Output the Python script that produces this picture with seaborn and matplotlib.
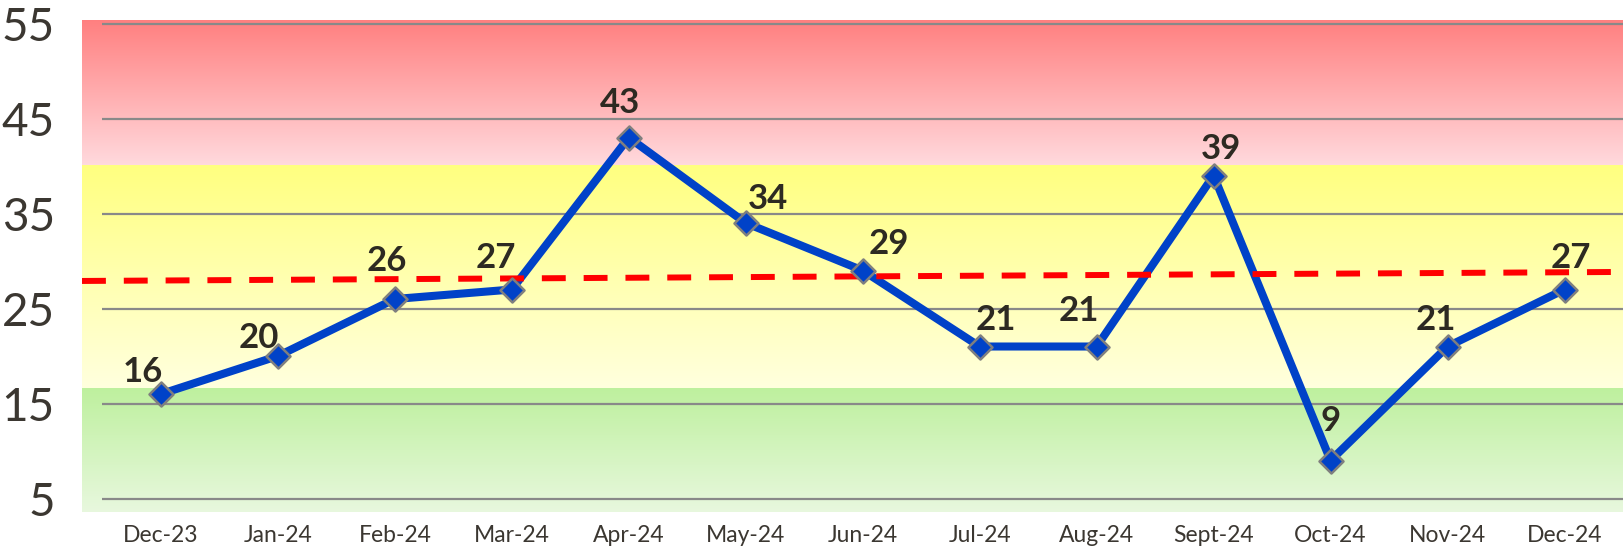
import numpy as np
import pandas as pd
import matplotlib
matplotlib.use("Agg")
import matplotlib.pyplot as plt
import seaborn as sns

# ---- data ----
months = ["Dec-23", "Jan-24", "Feb-24", "Mar-24", "Apr-24", "May-24", "Jun-24",
          "Jul-24", "Aug-24", "Sept-24", "Oct-24", "Nov-24", "Dec-24"]
values = [16, 20, 26, 27, 43, 34, 29, 21, 21, 39, 9, 21, 27]

# dashed reference line (value at left edge, value at right edge)
ref_start = 27.9
ref_end = 28.85

# colour bands
red_from = 40
green_to = 16.6
y_ticks = [5, 15, 25, 35, 45, 55]

# label nudges in pixels (dx, dy up to baseline)
label_dx = [-18, -19, -8, -16, -9, 22, 26, 16, -18, 7, 0, -12, 6]
label_dy = [12, 8, 28, 22, 25, 14, 17, 17, 26, 17, 30, 17, 22]

sns.set_theme(style="white")
plt.rcParams["font.family"] = ["Lato", "DejaVu Sans"]

df = pd.DataFrame({"pos": np.arange(len(months)), "value": values})

fig = plt.figure(figsize=(16.23, 5.47), dpi=100)
ax = fig.add_axes([82 / 1623, 35 / 547, 1 - 82 / 1623, 492 / 547])

x_lo, x_hi = -0.675, 12.5
y_lo, y_hi = 3.58, 55.37
ax.set_xlim(x_lo, x_hi)
ax.set_ylim(y_lo, y_hi)


def band(c_top, c_bot, y0, y1):
    # vertical gradient from c_top to c_bot
    t = np.linspace(0, 1, 256)[:, None]
    top = np.array(c_top) / 255.0
    bot = np.array(c_bot) / 255.0
    rgb = ((1 - t) * top + t * bot)[:, None, :]
    ax.imshow(rgb, extent=[x_lo, x_hi, y0, y1], aspect="auto",
              origin="upper", zorder=0, interpolation="bilinear")


band((255, 127, 127), (255, 218, 222), red_from, y_hi)
band((255, 255, 128), (255, 255, 222), green_to, red_from)
band((190, 240, 158), (232, 248, 222), y_lo, green_to)

# gridlines
ax.hlines(y_ticks, -0.5, x_hi, colors="#898989", linewidth=1.6, zorder=1)

# main series
sns.lineplot(data=df, x="pos", y="value", color="#0042C8", linewidth=5.8,
             ax=ax, zorder=3, sort=False)
ax.plot([x_lo, x_hi], [ref_start, ref_end], color="#FF0000", linewidth=4.3,
        dashes=(4, 3), zorder=4)
sns.scatterplot(data=df, x="pos", y="value", marker="D", s=150,
                color="#0042C8", edgecolor="#7F7F7F", linewidth=1.8,
                ax=ax, zorder=5)

for i, v in enumerate(values):
    ax.annotate(str(v), (i, v), xytext=(label_dx[i], label_dy[i]),
                textcoords="offset pixels", ha="center", va="baseline",
                fontsize=25, fontweight="bold", color="#2D2A22", zorder=6)

ax.set_xticks(range(len(months)))
ax.set_xticklabels(months, fontsize=16.5, color="#3B3731")
ax.set_yticks(y_ticks)
ax.set_yticklabels([str(t) for t in y_ticks], fontsize=33, color="#3B3731")
ax.tick_params(axis="x", length=0, pad=9)
ax.tick_params(axis="y", length=0, pad=19.5)
ax.set_xlabel("")
ax.set_ylabel("")
for s in ax.spines.values():
    s.set_visible(False)

fig.savefig("out.png", dpi=100)
